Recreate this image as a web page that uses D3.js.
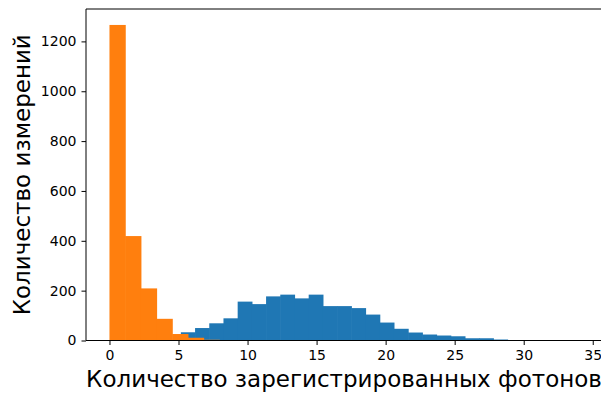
<!DOCTYPE html>
<html>
<head>
<meta charset="utf-8">
<script src="https://cdn.jsdelivr.net/npm/d3@7"></script>
<style>
  html, body { margin: 0; padding: 0; background: #fff; overflow: hidden; }
  text { font-family: "DejaVu Sans", sans-serif; fill: #000; }
</style>
</head>
<body>
<svg id="chart" width="601" height="394"></svg>
<script>
// Histogram counts per bin (two measurement series)
const blueStart = 5.17;
const blueEnd = 33.97;
const blueCounts = [33, 50, 69, 89, 156, 146, 177, 184, 169, 184,
                    138, 138, 130, 104, 72, 47, 32, 24, 20, 17,
                    9, 9, 4, 1, 1, 0, 0, 1];

const orangeStart = 0;
const orangeEnd = 11.355;
const orangeCounts = [1266, 419, 209, 87, 26, 11, 3, 1, 0, 1];

const xTicks = [0, 5, 10, 15, 20, 25, 30, 35];
const yTicks = [0, 200, 400, 600, 800, 1000, 1200];

const xLabel = "Количество зарегистрированных фотонов";
const yLabel = "Количество измерений";

const colors = { blue: "#1f77b4", orange: "#ff7f0e" };

// equal-width bins between start and end, like numpy.histogram
function makeBins(start, end, counts) {
  const w = (end - start) / counts.length;
  return counts.map((c, i) => ({ x0: start + i * w, x1: start + (i + 1) * w, n: c }));
}

const svg = d3.select("#chart");
const plotLeft = 86, plotRight = 602, plotTop = 9, plotBottom = 340.5;

const x = d3.scaleLinear().domain([-1.70, 35.67]).range([plotLeft, plotRight]);
const y = d3.scaleLinear().domain([0, 1330]).range([plotBottom, plotTop]);

// each bar is drawn slightly overlapping its neighbour so no seam shows
function drawHist(bins, color) {
  svg.append("g").selectAll("rect").data(bins).enter().append("rect")
    .attr("x", d => x(d.x0))
    .attr("width", (d, i) => x(d.x1) - x(d.x0) + (i < bins.length - 1 ? 0.6 : 0))
    .attr("y", d => y(d.n))
    .attr("height", d => y(0) - y(d.n))
    .attr("fill", color);
}

drawHist(makeBins(blueStart, blueEnd, blueCounts), colors.blue);
drawHist(makeBins(orangeStart, orangeEnd, orangeCounts), colors.orange);

// frame
const frame = svg.append("g").attr("fill", "none").attr("stroke", "#000").attr("stroke-width", 1);
frame.append("line").attr("x1", plotLeft).attr("x2", plotLeft).attr("y1", plotTop).attr("y2", plotBottom);
frame.append("line").attr("x1", plotLeft).attr("x2", plotRight).attr("y1", plotTop).attr("y2", plotTop);
frame.append("line").attr("x1", plotRight).attr("x2", plotRight).attr("y1", plotTop).attr("y2", plotBottom);
frame.append("line").attr("x1", plotLeft).attr("x2", plotRight).attr("y1", plotBottom).attr("y2", plotBottom);

// axes
const xAxis = d3.axisBottom(x).tickValues(xTicks).tickSize(4.5).tickPadding(5.5).tickFormat(d3.format("d"));
const yAxis = d3.axisLeft(y).tickValues(yTicks).tickSize(4.5).tickPadding(5).tickFormat(d3.format("d"));

const gx = svg.append("g").attr("transform", `translate(0,${plotBottom})`).call(xAxis);
const gy = svg.append("g").attr("transform", `translate(${plotLeft},0)`).call(yAxis);
[gx, gy].forEach(g => {
  g.select(".domain").remove();
  g.selectAll(".tick line").attr("stroke", "#000").attr("stroke-width", 1);
  g.selectAll(".tick text").attr("font-size", 14).attr("font-family", "DejaVu Sans").attr("fill", "#000");
});

svg.append("text")
  .attr("x", (plotLeft + plotRight) / 2)
  .attr("y", 387)
  .attr("text-anchor", "middle")
  .attr("font-size", 23)
  .text(xLabel);

svg.append("text")
  .attr("transform", `translate(30,${(plotTop + plotBottom) / 2}) rotate(-90)`)
  .attr("text-anchor", "middle")
  .attr("font-size", 23)
  .text(yLabel);
</script>
</body>
</html>
